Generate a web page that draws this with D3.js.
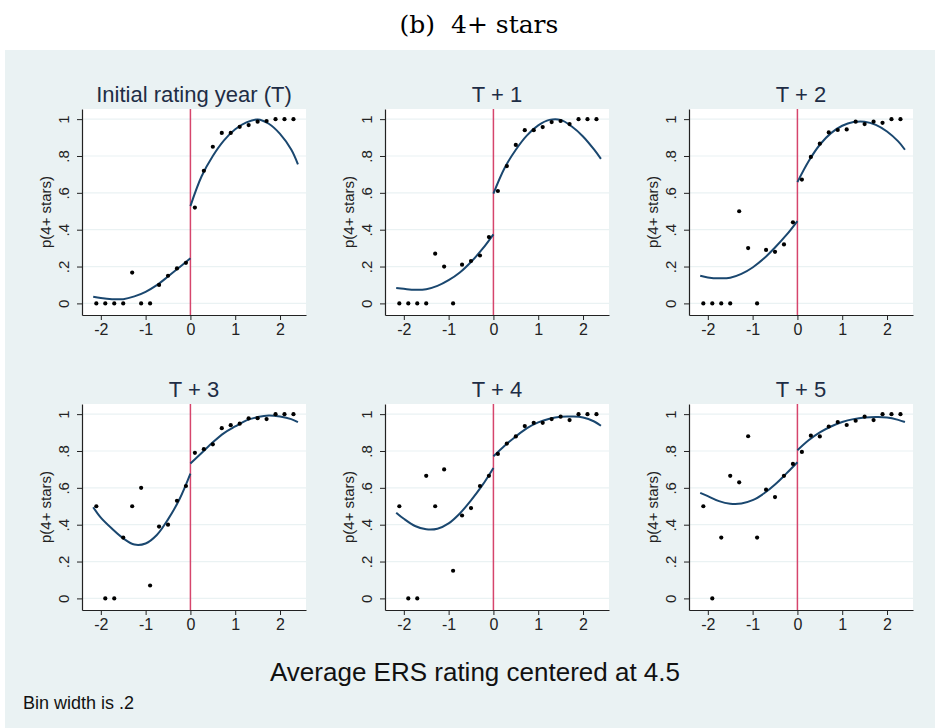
<!DOCTYPE html>
<html>
<head>
<meta charset="utf-8">
<script src="https://cdn.jsdelivr.net/npm/d3@7"></script>
<style>
  html, body { margin: 0; padding: 0; background: #ffffff; }
  svg { display: block; }
  text { white-space: pre; }
</style>
</head>
<body>
<svg id="chart" width="935" height="728"></svg>
<script>
// ---------------- DATA ----------------
const panelTitles = ["Initial rating year (T)", "T + 1", "T + 2", "T + 3", "T + 4", "T + 5"];

const binXLeft  = [-2.1, -1.9, -1.7, -1.5, -1.3, -1.1, -0.9, -0.7, -0.5, -0.3, -0.1];
const binXRight = [0.1, 0.3, 0.5, 0.7, 0.9, 1.1, 1.3, 1.5, 1.7, 1.9, 2.1, 2.3];

// binned means, left of cutoff
const binLeftT0 = [0, 0, 0, 0, 0.167, 0, 0, 0.10, 0.15, 0.19, 0.22];
const binLeftT1 = [0, 0, 0, 0, 0.27, 0.20, 0, 0.21, 0.23, 0.26, 0.36];
const binLeftT2 = [0, 0, 0, 0, 0.50, 0.30, 0, 0.29, 0.28, 0.32, 0.44];
const binLeftT3 = [0.50, 0, 0, 0.33, 0.50, 0.60, 0.07, 0.39, 0.40, 0.53, 0.61];
const binLeftT4 = [0.50, 0, 0, 0.665, 0.50, 0.70, 0.15, 0.45, 0.49, 0.61, 0.665];
const binLeftT5 = [0.50, 0, 0.33, 0.665, 0.63, 0.88, 0.33, 0.59, 0.55, 0.665, 0.73];

// binned means, right of cutoff
const binRightT0 = [0.52, 0.72, 0.85, 0.925, 0.925, 0.958, 0.968, 0.986, 0.99, 1, 1, 1];
const binRightT1 = [0.61, 0.745, 0.86, 0.94, 0.94, 0.957, 0.984, 0.99, 0.973, 1, 1, 1];
const binRightT2 = [0.672, 0.795, 0.867, 0.928, 0.941, 0.944, 0.986, 0.973, 0.986, 0.98, 1, 1];
const binRightT3 = [0.79, 0.81, 0.836, 0.924, 0.94, 0.948, 0.977, 0.978, 0.973, 1, 1, 1];
const binRightT4 = [0.784, 0.84, 0.879, 0.935, 0.953, 0.953, 0.973, 0.986, 0.968, 1, 1, 1];
const binRightT5 = [0.795, 0.883, 0.879, 0.933, 0.957, 0.941, 0.964, 0.986, 0.968, 1, 1, 1];

// fitted polynomial, read at these x positions
const fitXLeft  = [-2.17, -2, -1.75, -1.5, -1.25, -1, -0.75, -0.5, -0.25, 0];
const fitXRight = [0, 0.25, 0.5, 0.75, 1, 1.25, 1.5, 1.75, 2, 2.25, 2.4];

const fitLeftT0 = [0.036, 0.029, 0.023, 0.023, 0.038, 0.063, 0.099, 0.146, 0.195, 0.245];
const fitLeftT1 = [0.083, 0.079, 0.074, 0.077, 0.095, 0.126, 0.168, 0.225, 0.294, 0.375];
const fitLeftT2 = [0.150, 0.141, 0.136, 0.139, 0.160, 0.195, 0.243, 0.303, 0.370, 0.447];
const fitLeftT3 = [0.495, 0.438, 0.378, 0.326, 0.292, 0.298, 0.344, 0.429, 0.535, 0.677];
const fitLeftT4 = [0.465, 0.432, 0.393, 0.375, 0.378, 0.407, 0.461, 0.532, 0.613, 0.708];
const fitLeftT5 = [0.573, 0.555, 0.528, 0.514, 0.515, 0.533, 0.569, 0.618, 0.677, 0.739];

const fitRightT0 = [0.528, 0.69, 0.80, 0.885, 0.945, 0.982, 0.998, 0.975, 0.92, 0.835, 0.755];
const fitRightT1 = [0.596, 0.735, 0.834, 0.912, 0.966, 0.996, 0.996, 0.96, 0.906, 0.834, 0.784];
const fitRightT2 = [0.658, 0.771, 0.861, 0.924, 0.964, 0.984, 0.986, 0.969, 0.933, 0.879, 0.834];
const fitRightT3 = [0.732, 0.789, 0.847, 0.897, 0.933, 0.966, 0.984, 0.993, 0.987, 0.973, 0.957];
const fitRightT4 = [0.771, 0.829, 0.879, 0.924, 0.955, 0.975, 0.986, 0.987, 0.982, 0.96, 0.937];
const fitRightT5 = [0.804, 0.858, 0.901, 0.933, 0.957, 0.973, 0.982, 0.984, 0.982, 0.969, 0.957];

const xTickValues = [-2, -1, 0, 1, 2];
const yTickValues = [0, 0.2, 0.4, 0.6, 0.8, 1];
const yTickLabels = ["0", ".2", ".4", ".6", ".8", "1"];

const mainTitle = "(b)  4+ stars";
const xAxisTitle = "Average ERS rating centered at 4.5";
const yAxisTitle = "p(4+ stars)";
const noteText = "Bin width is .2";

// ---------------- LAYOUT / STYLE ----------------
const W = 935, H = 728;
const bgColor = "#eaf2f3";
const navy = "#1a476f";
const cutColor = "#d6456c";
const sans = "'Liberation Sans', Arial, sans-serif";

const plotW = 224, plotH = 206;
const colLeft = [82, 385, 689];
const rowTop = [109, 404];

const panels = [
  {title: panelTitles[0], bl: binLeftT0, br: binRightT0, fl: fitLeftT0, fr: fitRightT0},
  {title: panelTitles[1], bl: binLeftT1, br: binRightT1, fl: fitLeftT1, fr: fitRightT1},
  {title: panelTitles[2], bl: binLeftT2, br: binRightT2, fl: fitLeftT2, fr: fitRightT2},
  {title: panelTitles[3], bl: binLeftT3, br: binRightT3, fl: fitLeftT3, fr: fitRightT3},
  {title: panelTitles[4], bl: binLeftT4, br: binRightT4, fl: fitLeftT4, fr: fitRightT4},
  {title: panelTitles[5], bl: binLeftT5, br: binRightT5, fl: fitLeftT5, fr: fitRightT5}
];

const svg = d3.select("#chart");
svg.append("rect").attr("x", 0).attr("y", 0).attr("width", W).attr("height", H).attr("fill", "#ffffff");
svg.append("rect").attr("x", 5).attr("y", 50).attr("width", W - 5).attr("height", H - 50).attr("fill", bgColor);

svg.append("text")
  .attr("x", 479).attr("y", 33)
  .attr("text-anchor", "middle")
  .attr("font-family", "'DejaVu Serif', 'Liberation Serif', serif")
  .attr("font-size", 25)
  .attr("fill", "#000")
  .text(mainTitle);

svg.append("text")
  .attr("x", 475).attr("y", 681)
  .attr("text-anchor", "middle")
  .attr("font-family", sans)
  .attr("font-size", 26)
  .attr("fill", "#111")
  .text(xAxisTitle);

svg.append("text")
  .attr("x", 23).attr("y", 709)
  .attr("font-family", sans)
  .attr("font-size", 18)
  .attr("fill", "#111")
  .text(noteText);

const lineGen = d3.line().curve(d3.curveCatmullRom.alpha(0.5));

panels.forEach((p, i) => {
  const left = colLeft[i % 3];
  const top = rowTop[Math.floor(i / 3)];
  const x = d3.scaleLinear().domain([-2.42, 2.58]).range([left, left + plotW]);
  const y = d3.scaleLinear().domain([-0.063, 1.055]).range([top + plotH, top]);

  const g = svg.append("g");

  // plot region
  g.append("rect").attr("x", left).attr("y", top).attr("width", plotW).attr("height", plotH).attr("fill", "#ffffff");

  // grid
  g.selectAll(".grid").data(yTickValues).enter().append("line")
    .attr("x1", left).attr("x2", left + plotW)
    .attr("y1", d => y(d)).attr("y2", d => y(d))
    .attr("stroke", bgColor).attr("stroke-width", 1.2);

  // title
  g.append("text")
    .attr("x", left + plotW / 2).attr("y", top - 7)
    .attr("text-anchor", "middle")
    .attr("font-family", sans).attr("font-size", 22)
    .attr("fill", "#1e2d45")
    .text(p.title);

  // y axis
  const yAxis = d3.axisLeft(y).tickValues(yTickValues)
    .tickFormat((d, k) => yTickLabels[k]).tickSize(5).tickSizeOuter(0);
  const ya = g.append("g").attr("transform", `translate(${left},0)`).call(yAxis);
  ya.select(".domain").attr("stroke", "#222").attr("stroke-width", 1.2);
  ya.selectAll(".tick line").attr("stroke", "#222");
  ya.selectAll(".tick text")
    .attr("x", null).attr("dy", null)
    .attr("transform", "translate(-13,0) rotate(-90)")
    .attr("text-anchor", "middle")
    .attr("font-family", sans).attr("font-size", 15)
    .attr("fill", "#222");

  // y axis title
  g.append("text")
    .attr("transform", `translate(${left - 31},${top + plotH / 2}) rotate(-90)`)
    .attr("text-anchor", "middle")
    .attr("font-family", sans).attr("font-size", 15)
    .attr("fill", "#222")
    .text(yAxisTitle);

  // x axis
  const xAxis = d3.axisBottom(x).tickValues(xTickValues)
    .tickFormat(d => d3.format("d")(d).replace("−", "-")).tickSize(5).tickSizeOuter(0).tickPadding(4);
  const xa = g.append("g").attr("transform", `translate(0,${top + plotH})`).call(xAxis);
  xa.select(".domain").attr("stroke", "#222").attr("stroke-width", 1.2);
  xa.selectAll(".tick line").attr("stroke", "#222");
  xa.selectAll(".tick text")
    .attr("font-family", sans).attr("font-size", 16)
    .attr("fill", "#222");

  // cutoff line
  g.append("line")
    .attr("x1", x(0)).attr("x2", x(0))
    .attr("y1", top).attr("y2", top + plotH)
    .attr("stroke", cutColor).attr("stroke-width", 1.5);

  // fitted curves
  g.append("path")
    .attr("d", lineGen(fitXLeft.map((xv, k) => [x(xv), y(p.fl[k])])))
    .attr("fill", "none").attr("stroke", navy).attr("stroke-width", 2);
  g.append("path")
    .attr("d", lineGen(fitXRight.map((xv, k) => [x(xv), y(p.fr[k])])))
    .attr("fill", "none").attr("stroke", navy).attr("stroke-width", 2);

  // bin dots
  const pts = binXLeft.map((xv, k) => [xv, p.bl[k]]).concat(binXRight.map((xv, k) => [xv, p.br[k]]));
  g.selectAll(".dot").data(pts).enter().append("circle")
    .attr("cx", d => x(d[0])).attr("cy", d => y(d[1]))
    .attr("r", 2.1).attr("fill", "#000");
});
</script>
</body>
</html>
